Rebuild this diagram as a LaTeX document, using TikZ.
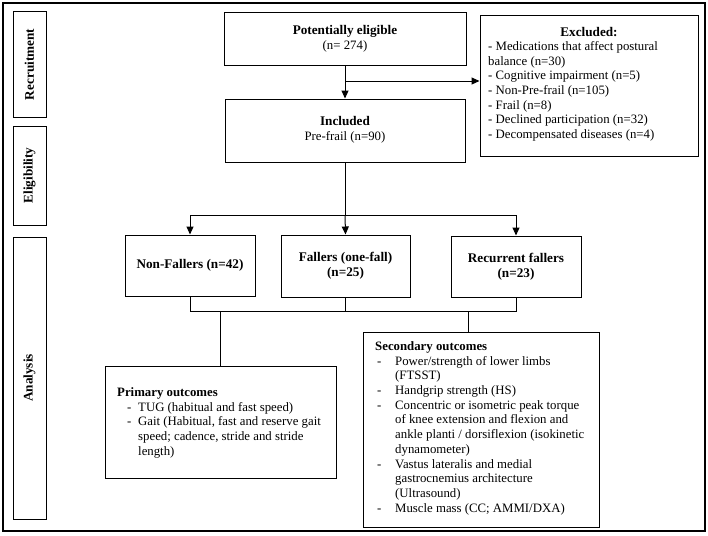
\documentclass[tikz,border=0pt]{standalone}
\usepackage{fontspec}
\setmainfont{Liberation Serif}
\usetikzlibrary{arrows.meta}
\begin{document}
\begin{tikzpicture}[x=1pt,y=-1pt,
 box/.style={draw, line width=1pt, inner sep=0pt, rectangle},
 arr/.style={line width=1pt, -{Triangle[length=8pt,width=7pt]}},
 ln/.style={line width=1pt},
 txt/.style={inner sep=0pt, font=\fontsize{12.8}{14.7}\selectfont, align=center},
 btxt/.style={inner sep=0pt, font=\fontsize{13.2}{14.7}\selectfont\bfseries, align=center},
 ltxt/.style={inner sep=0pt, font=\fontsize{12.8}{14.7}\selectfont, anchor=north west},
 side/.style={inner sep=0pt, rotate=90, font=\fontsize{13.2}{14.7}\selectfont\bfseries}
]
\useasboundingbox (0,0) rectangle (708,535);
\node[box, line width=1.5pt, minimum width=702pt, minimum height=528pt] (frame) at (354,267) {};
% side labels
\node[box, minimum width=33pt, minimum height=105pt] (srec) at (29.5,64.5) {};
\node[side] (srect) at (srec) {Recruitment};
\node[box, minimum width=33pt, minimum height=99pt] (selig) at (29.5,175.5) {};
\node[side] (seligt) at (selig) {Eligibility};
\node[box, minimum width=33pt, minimum height=282pt] (sana) at (29.5,378) {};
\node[side] (sanat) at (sana) {Analysis};
% main boxes
\node[box, minimum width=242pt, minimum height=52pt] (pe) at (345,39) {};
\node[txt] (pet) at (345,39) {{\fontsize{13.2}{14.7}\selectfont\bfseries Potentially eligible}\\(n= 274)};
\node[box, minimum width=240pt, minimum height=63pt] (inc) at (345,130.5) {};
\node[txt] (inct) at (345,130) {{\fontsize{13.2}{14.7}\selectfont\bfseries Included}\\Pre-frail (n=90)};
\node[box, minimum width=218pt, minimum height=140pt] (exc) at (589,86) {};
\node[btxt] (exch) at (589,32) {Excluded:};
\node[ltxt] (excl) at (488,40) {\begin{tabular}{@{}l@{}}
- Medications that affect postural\\
balance (n=30)\\
- Cognitive impairment (n=5)\\
- Non-Pre-frail (n=105)\\
- Frail (n=8)\\
- Declined participation (n=32)\\
- Decompensated diseases (n=4)
\end{tabular}};
\node[box, minimum width=130pt, minimum height=61pt] (nf) at (190,265.5) {};
\node[btxt] (nft) at (190,265) {Non-Fallers (n=42)};
\node[box, minimum width=129pt, minimum height=62pt] (fal) at (345.5,266) {};
\node[btxt] (falt) at (345.5,266) {Fallers (one-fall)\\(n=25)};
\node[box, minimum width=130pt, minimum height=61pt] (rec) at (516,266.5) {};
\node[btxt] (rect) at (516,266.5) {Recurrent fallers\\(n=23)};
\node[box, minimum width=231pt, minimum height=112pt] (pri) at (220.5,422) {};
\node[ltxt] (prit) at (117,386) {\begin{tabular}{@{\hspace{10pt}}p{11pt}@{}l@{}}
\multicolumn{2}{@{}l@{}}{\textbf{Primary outcomes}}\\
- & TUG (habitual and fast speed)\\
- & Gait (Habitual, fast and reserve gait\\
  & speed; cadence, stride and stride\\
  & length)
\end{tabular}};
\node[box, minimum width=236pt, minimum height=195pt] (sec) at (481,429.5) {};
\node[ltxt] (sect) at (375,340) {\begin{tabular}{@{\hspace{2pt}}p{18pt}@{}l@{}}
\multicolumn{2}{@{}l@{}}{\textbf{Secondary outcomes}}\\
- & Power/strength of lower limbs\\
  & (FTSST)\\
- & Handgrip strength (HS)\\
- & Concentric or isometric peak torque\\
  & of knee extension and flexion and\\
  & ankle planti / dorsiflexion (isokinetic\\
  & dynamometer)\\
- & Vastus lateralis and medial\\
  & gastrocnemius architecture\\
  & (Ultrasound)\\
- & Muscle mass (CC; AMMI/DXA)
\end{tabular}};
% connectors
\coordinate (b1) at (345,81);
\draw[arr] (pe.south) -- (inc.north);
\draw[arr] (b1) -- (b1 -| exc.west);
\coordinate (b2) at (345,215);
\draw[ln] (inc.south) -- (b2);
\draw[arr] (b2) -- (fal.north);
\draw[arr] (b2) -| (nf.north);
\draw[arr] (b2) -| (rec.north);
\coordinate (j) at (345,311);
\draw[ln] (nf.south) -- (nf.south |- j) -- (rec.south |- j) -- (rec.south);
\draw[ln] (fal.south) -- (fal.south |- j);
\coordinate (j1) at (220,311);
\draw[ln] (j1) -- (j1 |- pri.north);
\coordinate (j2) at (468,311);
\draw[ln] (j2) -- (j2 |- sec.north);
\end{tikzpicture}
\end{document}
